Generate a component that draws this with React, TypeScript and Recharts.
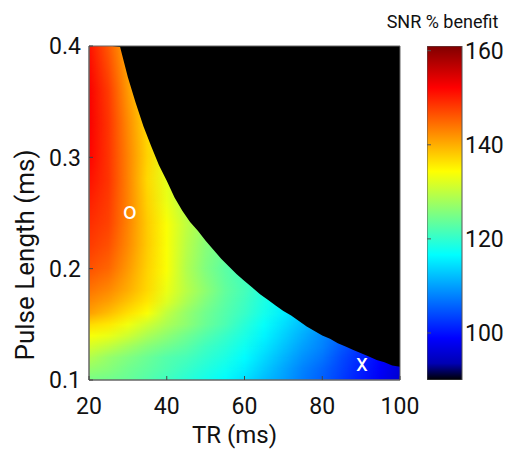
import React from 'react';
import { ComposedChart, Area, XAxis, YAxis, ReferenceArea, ReferenceDot, BarChart, Bar } from 'recharts';

// ---- data ----
const TR_COLS = [20, 25, 30, 35, 40, 45, 50, 55, 60, 65, 70, 75, 80, 85, 90, 95, 100];
const PL_ROWS = [0.10, 0.11, 0.12, 0.13, 0.14, 0.15, 0.16, 0.17, 0.18, 0.20, 0.22, 0.24, 0.26, 0.28, 0.30, 0.33, 0.36, 0.40];
const N = null;
// SNR % benefit, one array per pulse-length row (null = outside the allowed region)
const ROW_010 = [125, 124.5, 123.8, 122.5, 121, 119.5, 118, 116.5, 114.5, 112, 110, 107.5, 105.5, 103, 100.5, 98, 95.5];
const ROW_011 = [127, 126, 124.5, 123.3, 122, 120.5, 119, 117.5, 115.5, 113, 110.5, 108, 106, 103.5, 101, 98.5, 96];
const ROW_012 = [129, 127, 125.5, 124, 122.5, 121.5, 120, 118.5, 116.5, 114, 111.5, 109, 107, 104, 101.5, 99, 97];
const ROW_013 = [131.5, 130, 128, 126, 124.5, 123, 121, 119.5, 117.5, 115, 112.5, 110, 108, 105, 102.5, N, N];
const ROW_014 = [134, 133, 131, 128.5, 126.5, 124.5, 122.5, 120.5, 118.5, 116, 113.5, 111, 108.5, 106, N, N, N];
const ROW_015 = [137, 136, 133.5, 131, 128.5, 126.5, 124, 122, 119.5, 117, 114.5, 112, 110, N, N, N, N];
const ROW_016 = [141, 139, 136.5, 134, 130, 127, 124.5, 122.5, 120.5, 118, 115.5, 113, N, N, N, N, N];
const ROW_017 = [142.5, 141, 138.5, 136, 132, 128.5, 125.5, 123, 121, 118.5, 116, N, N, N, N, N, N];
const ROW_018 = [144, 142.5, 140, 137, 133, 129.5, 126.5, 123.5, 121.5, 119, N, N, N, N, N, N, N];
const ROW_020 = [146.5, 145, 141.5, 137.5, 134, 129, 125.5, 123, 121, N, N, N, N, N, N, N, N];
const ROW_022 = [148, 146.5, 142.5, 138, 134, 129.5, 126, 124, N, N, N, N, N, N, N, N, N];
const ROW_024 = [149, 147.5, 143, 138, 134, 130, 127, N, N, N, N, N, N, N, N, N, N];
const ROW_026 = [150, 148, 143, 137.5, 133, 129, N, N, N, N, N, N, N, N, N, N, N];
const ROW_028 = [151, 148.5, 143, 137, 132.5, 129, N, N, N, N, N, N, N, N, N, N, N];
const ROW_030 = [152, 148.5, 143, 137.5, 132.5, N, N, N, N, N, N, N, N, N, N, N, N];
const ROW_033 = [152.5, 148.5, 142.5, 137, 132.5, N, N, N, N, N, N, N, N, N, N, N, N];
const ROW_036 = [152.5, 148, 141.5, 136, N, N, N, N, N, N, N, N, N, N, N, N, N];
const ROW_040 = [151, 146, 140, N, N, N, N, N, N, N, N, N, N, N, N, N, N];
const SNR_ROWS = [ROW_010, ROW_011, ROW_012, ROW_013, ROW_014, ROW_015, ROW_016, ROW_017, ROW_018,
  ROW_020, ROW_022, ROW_024, ROW_026, ROW_028, ROW_030, ROW_033, ROW_036, ROW_040];

// limit of the allowed region (above it the map is black)
const MASK_TR = [20, 22, 24, 26, 28, 30, 32, 34, 36, 38, 40, 42, 44, 46, 48, 50, 52, 54, 56, 58, 60,
  62, 64, 66, 68, 70, 72, 74, 76, 78, 80, 82, 84, 86, 88, 90, 92, 94, 96, 98, 100];
const MASK_PL = [0.4, 0.4, 0.4, 0.4, 0.399, 0.372, 0.349, 0.328, 0.310, 0.293, 0.279, 0.264, 0.252, 0.242,
  0.234, 0.225, 0.217, 0.209, 0.202, 0.195, 0.189, 0.183, 0.177, 0.172, 0.167, 0.162, 0.158, 0.153,
  0.148, 0.144, 0.140, 0.137, 0.133, 0.130, 0.127, 0.124, 0.121, 0.118, 0.116, 0.113, 0.112];

const X_TICKS = [20, 40, 60, 80, 100];
const Y_TICKS = [0.1, 0.2, 0.3, 0.4];
const CBAR_TICKS = [100, 120, 140, 160];
const CBAR_MIN = 90;
const CBAR_MAX = 161;
const MARKERS = [
  { tr: 30.5, pl: 0.25, sym: 'o' },
  { tr: 90.2, pl: 0.114, sym: 'x' },
];

// ---- colour map (jet) ----
const clamp = (x: number) => Math.max(0, Math.min(1, x));
function jet(t: number): string {
  const r = clamp(Math.min(4 * t - 1.5, -4 * t + 4.5));
  const g = clamp(Math.min(4 * t - 0.5, -4 * t + 3.5));
  const b = clamp(Math.min(4 * t + 0.5, -4 * t + 2.5));
  return `rgb(${Math.round(r * 255)},${Math.round(g * 255)},${Math.round(b * 255)})`;
}
const valueColor = (v: number) => jet((v - CBAR_MIN) / (CBAR_MAX - CBAR_MIN));
const CBAR_STOPS = [0.05, 0.125, 0.375, 0.625, 0.875, 1];

// ---- table for the chart ----
const X_MIN = TR_COLS[0];
const X_MAX = TR_COLS[TR_COLS.length - 1];
const Y_MIN = PL_ROWS[0];
const Y_MAX = PL_ROWS[PL_ROWS.length - 1];
// each row is painted from the previous row's level upward and fades in (shading between rows)
const rowLo = PL_ROWS.map((p, i) => (i === 0 ? Y_MIN : PL_ROWS[i - 1]));
const rowFull = PL_ROWS.map((p, i) => (i === 0 ? 0 : (Y_MAX - p) / (Y_MAX - rowLo[i])));
const table = MASK_TR.map((tr, j) => {
  const rec: any = { tr, mask: [MASK_PL[j], Y_MAX] };
  rowLo.forEach((lo, i) => { rec['r' + i] = [lo, Y_MAX]; });
  return rec;
});

const FONT = 'Roboto, "Noto Sans", sans-serif';
const TICK_FS = 23;

const renderXTick = (p: any) => (
  <g>
    <line x1={p.x} x2={p.x} y1={p.y} y2={p.y - 4} stroke="#444" />
    <text x={p.x} y={p.y + 34} textAnchor="middle" fontSize={TICK_FS} fontFamily={FONT} fill="#111">
      {p.payload.value}
    </text>
  </g>
);
const renderYTick = (p: any) => (
  <g>
    <line x1={p.x} x2={p.x + 4} y1={p.y} y2={p.y} stroke="#444" />
    <text x={p.x - 8} y={p.y} dy="0.36em" textAnchor="end" fontSize={TICK_FS} fontFamily={FONT} fill="#111">
      {String(p.payload.value)}
    </text>
  </g>
);
const renderCTick = (p: any) => (
  <g>
    <line x1={p.x - 35} x2={p.x - 31} y1={p.y} y2={p.y} stroke="#555" />
    <text x={p.x + 3} y={p.y} dy="0.36em" textAnchor="start" fontSize={TICK_FS} fontFamily={FONT} fill="#111">
      {p.payload.value}
    </text>
  </g>
);

const markerShape = (sym: string) => (p: any) => (
  <text x={p.cx} y={p.cy + 6.4} textAnchor="middle" fontSize={24} fontFamily={FONT} fill="#fff">
    {sym}
  </text>
);

export default function App() {
  return (
    <div style={{ position: 'absolute', left: 0, top: 0, width: 507, height: 449, fontFamily: FONT, background: '#fff' }}>
      <div style={{ position: 'absolute', left: 0, top: 0 }}>
        <ComposedChart width={507} height={449} data={table} margin={{ top: 46, right: 107, bottom: 0, left: 29 }}>
          <defs>
            {SNR_ROWS.map((vals, i) => (
              <linearGradient key={'g' + i} id={'snrrow' + i} x1="0" y1="0" x2="1" y2="0">
                {vals.map((v, k) =>
                  v == null ? null : (
                    <stop key={k} offset={(TR_COLS[k] - X_MIN) / (X_MAX - X_MIN)} stopColor={valueColor(v)} />
                  )
                )}
              </linearGradient>
            ))}
            {SNR_ROWS.map((_, i) => (
              <linearGradient key={'v' + i} id={'snrfade' + i} x1="0" y1="0" x2="0" y2="1">
                <stop offset={0} stopColor="#fff" />
                <stop offset={rowFull[i]} stopColor="#fff" />
                <stop offset={1} stopColor={i === 0 ? '#fff' : '#000'} />
              </linearGradient>
            ))}
            {SNR_ROWS.map((_, i) => (
              <mask key={'m' + i} id={'snrmask' + i} maskContentUnits="objectBoundingBox">
                <rect x={0} y={0} width={1} height={1} fill={`url(#snrfade${i})`} />
              </mask>
            ))}
          </defs>
          <XAxis dataKey="tr" type="number" domain={[X_MIN, X_MAX]} ticks={X_TICKS} interval={0} allowDataOverflow
            height={69} tickSize={0} tickMargin={0} tickLine={false} axisLine={{ stroke: '#666' }} tick={renderXTick} />
          <YAxis type="number" domain={[Y_MIN, Y_MAX]} ticks={Y_TICKS} interval={0} allowDataOverflow
            width={60} tickSize={0} tickMargin={0} tickLine={false} axisLine={{ stroke: '#666' }} tick={renderYTick} />
          {SNR_ROWS.map((_, i) => (
            <Area key={i} dataKey={'r' + i} type="linear" fill={`url(#snrrow${i})`} fillOpacity={1}
              mask={`url(#snrmask${i})`}
              stroke="none" dot={false} activeDot={false} isAnimationActive={false} />
          ))}
          <Area dataKey="mask" type="linear" fill="#000" fillOpacity={1} stroke="none" dot={false}
            activeDot={false} isAnimationActive={false} />
          <ReferenceArea x1={X_MIN} x2={X_MAX} y1={Y_MIN} y2={Y_MAX} fill="none" fillOpacity={0} stroke="#666" />
          {MARKERS.map((m, i) => (
            <ReferenceDot key={i} x={m.tr} y={m.pl} r={0} shape={markerShape(m.sym)} />
          ))}
          <text x={234.5} y={443} textAnchor="middle" fontSize={24} fontFamily={FONT} fill="#111">TR (ms)</text>
          <text transform="rotate(-90)" x={-255} y={34} textAnchor="middle" fontSize={26} fontFamily={FONT} fill="#111">
            Pulse Length (ms)
          </text>
          <text x={442.5} y={28} textAnchor="middle" fontSize={18} fontFamily={FONT} fill="#111">SNR % benefit</text>
        </ComposedChart>
      </div>
      <div style={{ position: 'absolute', left: 427, top: 0 }}>
        <BarChart width={80} height={449} data={[{ name: 'cb', band: [CBAR_MIN, CBAR_MAX] }]}
          margin={{ top: 46, right: 0, bottom: 69, left: 0 }} barCategoryGap={0}>
          <defs>
            <linearGradient id="cbargrad" x1="0" y1="1" x2="0" y2="0">
              <stop offset={0} stopColor="#000" />
              {CBAR_STOPS.map((t, i) => (
                <stop key={i} offset={t} stopColor={jet(t)} />
              ))}
            </linearGradient>
          </defs>
          <XAxis dataKey="name" hide />
          <YAxis orientation="right" type="number" domain={[CBAR_MIN, CBAR_MAX]} ticks={CBAR_TICKS} interval={0}
            allowDataOverflow width={45} tickSize={0} tickMargin={0} tickLine={false} axisLine={false} tick={renderCTick} />
          <Bar dataKey="band" fill="url(#cbargrad)" stroke="#555" isAnimationActive={false} />
        </BarChart>
      </div>
    </div>
  );
}
